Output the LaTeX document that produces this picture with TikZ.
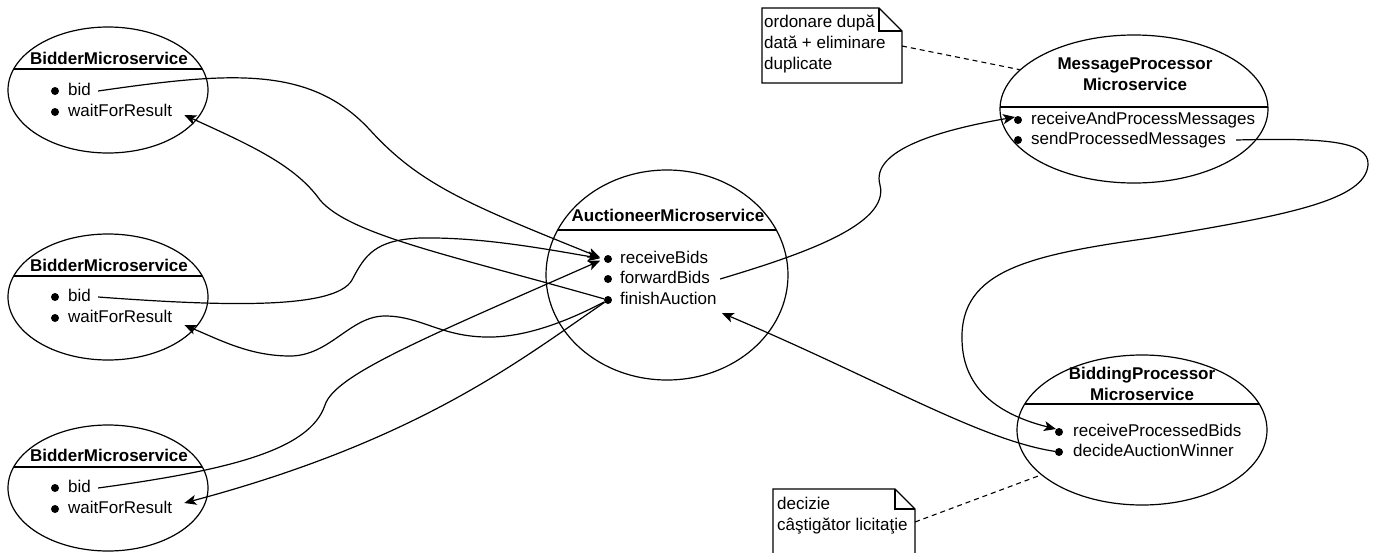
\documentclass[tikz,border=0pt]{standalone}
\usepackage{fontspec}
\setmainfont{Liberation Sans}
\usetikzlibrary{arrows.meta, shapes.geometric}
\newcommand{\diagfont}{\fontsize{17}{21}\selectfont}

\tikzset{
  service/.style={ellipse, draw, line width=1.2pt, inner sep=0pt},
  svctitle/.style={font=\diagfont\bfseries, align=center, inner sep=0pt},
  method/.style={anchor=west, inner sep=0pt, text height=12pt, text depth=3.5pt},
  dot/.style={circle, fill=black, inner sep=0pt, minimum size=8pt},
  call/.style={line width=1.2pt, -{Stealth[length=12pt, width=10pt, inset=3pt]}},
  noteline/.style={line width=1.1pt, dash pattern=on 5pt off 4pt},
  notebox/.style={line width=1.2pt},
}

\begin{document}
\begin{tikzpicture}[x=1pt, y=-1pt, font=\diagfont]
    \useasboundingbox (0,0) rectangle (1374,552);
    \clip (0,0) rectangle (1374,552);

    % Bidders (left column)
    \node[service, minimum width=200pt, minimum height=126pt] (bidderA) at (108,90) {};
    \node[svctitle] (bidderAtitle) at (109,58) {BidderMicroservice};
    \begin{scope}
      \clip (108,90) ellipse [x radius=100pt, y radius=63pt];
      \draw[line width=1.2pt] (0,69) -- (300,69);
    \end{scope}
    \node[dot] (bidAdot) at (55,91) {};
    \node[method] (bidA) at (68,91) {bid};
    \node[dot] (waitAdot) at (55,112) {};
    \node[method] (waitA) at (68,112) {waitForResult};

    \node[service, minimum width=200pt, minimum height=126pt] (bidderB) at (108,297) {};
    \node[svctitle] (bidderBtitle) at (109,265) {BidderMicroservice};
    \begin{scope}
      \clip (108,297) ellipse [x radius=100pt, y radius=63pt];
      \draw[line width=1.2pt] (0,276) -- (300,276);
    \end{scope}
    \node[dot] (bidBdot) at (55,297) {};
    \node[method] (bidB) at (68,297) {bid};
    \node[dot] (waitBdot) at (55,318) {};
    \node[method] (waitB) at (68,318) {waitForResult};

    \node[service, minimum width=200pt, minimum height=126pt] (bidderC) at (108,488) {};
    \node[svctitle] (bidderCtitle) at (109,455) {BidderMicroservice};
    \begin{scope}
      \clip (108,488) ellipse [x radius=100pt, y radius=63pt];
      \draw[line width=1.2pt] (0,467) -- (300,467);
    \end{scope}
    \node[dot] (bidCdot) at (55,488) {};
    \node[method] (bidC) at (68,488) {bid};
    \node[dot] (waitCdot) at (55,509) {};
    \node[method] (waitC) at (68,509) {waitForResult};

    % Auctioneer (centre)
    \node[service, minimum width=242pt, minimum height=210pt] (auct) at (667,275) {};
    \node[svctitle] (aucttitle) at (668,215) {AuctioneerMicroservice};
    \begin{scope}
      \clip (667,275) ellipse [x radius=121pt, y radius=105pt];
      \draw[line width=1.2pt] (500,230) -- (850,230);
    \end{scope}
    \node[dot] (recvdot) at (608,259) {};
    \node[method] (recv) at (620,259) {receiveBids};
    \node[dot] (forwarddot) at (608,279) {};
    \node[method] (forward) at (620,279) {forwardBids};
    \node[dot] (finishdot) at (608,300) {};
    \node[method] (finish) at (620,300) {finishAuction};

    % Message processor (top right)
    \node[service, minimum width=268pt, minimum height=148pt] (mp) at (1134,109) {};
    \node[svctitle] (mptitle) at (1135,74) {MessageProcessor\\Microservice};
    \begin{scope}
      \clip (1134,109) ellipse [x radius=134pt, y radius=74pt];
      \draw[line width=1.2pt] (980,107) -- (1290,107);
    \end{scope}
    \node[dot] (mprecvdot) at (1018,120) {};
    \node[method] (mprecv) at (1031,120) {receiveAndProcessMessages};
    \node[dot] (mpsenddot) at (1018,140) {};
    \node[method] (mpsend) at (1031,140) {sendProcessedMessages};

    % Bidding processor (bottom right)
    \node[service, minimum width=250pt, minimum height=150pt] (bp) at (1142,430) {};
    \node[svctitle] (bptitle) at (1142,384) {BiddingProcessor\\Microservice};
    \begin{scope}
      \clip (1142,430) ellipse [x radius=125pt, y radius=75pt];
      \draw[line width=1.2pt] (1000,404) -- (1290,404);
    \end{scope}
    \node[dot] (bprecvdot) at (1059,432) {};
    \node[method] (bprecv) at (1073,432) {receiveProcessedBids};
    \node[dot] (bpdecdot) at (1059,452) {};
    \node[method] (bpdec) at (1073,452) {decideAuctionWinner};

    % Notes
    \draw[notebox] (762,8) -- (879,8) -- (902,31) -- (902,83) -- (762,83) -- cycle;
    \draw[notebox] (879,8) -- (879,31) -- (902,31);
    \node[anchor=base west, align=left, inner sep=0pt] (notesort) at (764,69) {ordonare după\\dată + eliminare\\duplicate};
    \coordinate (notesortend) at (902,46);

    \draw[notebox] (773,560) -- (773,489) -- (895,489) -- (915,509) -- (915,560);
    \draw[notebox] (895,489) -- (895,509) -- (915,509);
    \node[anchor=base west, align=left, inner sep=0pt] (notewin) at (777,530) {decizie\\câştigător licitaţie};
    \coordinate (notewinend) at (915,522);

    \draw[noteline] (notesortend) -- (mp.161);
    \draw[noteline] (notewinend) -- (bp.204);

    % Bidder calls
    \draw[call, shorten >=4pt] ([xshift=7pt]bidA.east) .. controls (230,72) and (310,65) .. (370,130)
        .. controls (420,185) and (470,205) .. (recvdot.west);
    \draw[call] (finishdot) .. controls (450,255) and (350,235) .. (320,200)
        .. controls (295,165) and (250,145) .. ([xshift=12pt,yshift=-3pt]waitA.east);

    \draw[call, shorten >=4pt] ([xshift=7pt]bidB.east) .. controls (220,306) and (335,310) .. (352,280)
        .. controls (365,255) and (375,240) .. (420,238)
        .. controls (480,237) and (540,248) .. (recvdot.west);
    \draw[call] (finishdot) .. controls (560,325) and (520,338) .. (485,337)
        .. controls (440,336) and (420,316) .. (385,316)
        .. controls (350,316) and (330,356) .. (290,356)
        .. controls (250,356) and (220,340) .. ([xshift=12pt,yshift=-7pt]waitB.east);

    \draw[call, shorten >=4pt] ([xshift=7pt]bidC.east) .. controls (230,470) and (310,450) .. (325,405)
        .. controls (335,375) and (420,340) .. (recvdot.west);
    \draw[call] (finishdot) .. controls (520,360) and (420,440) .. ([xshift=12pt,yshift=6pt]waitC.east);

    % Processing chain
    \draw[call] ([xshift=10pt]forward.east) .. controls (800,255) and (890,225) .. (880,185)
        .. controls (870,150) and (940,130) .. (mprecvdot.north west);
    \draw[call] ([xshift=10pt]mpsend.east) .. controls (1320,138) and (1370,140) .. (1368,165)
        .. controls (1365,200) and (1290,215) .. (1150,238)
        .. controls (1030,255) and (960,270) .. (962,340)
        .. controls (963,390) and (1000,415) .. (bprecvdot.north west);
    \draw[call] (bpdecdot) .. controls (980,440) and (880,380) .. ([xshift=5pt,yshift=-13pt]finish.east);
\end{tikzpicture}
\end{document}
